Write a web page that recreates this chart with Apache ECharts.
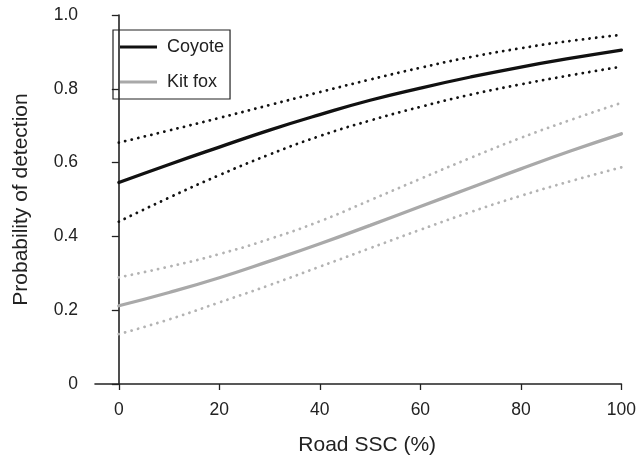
<!DOCTYPE html>
<html>
<head>
<meta charset="utf-8">
<script src="https://cdn.jsdelivr.net/npm/echarts@6/dist/echarts.min.js"></script>
<style>html,body{margin:0;padding:0;background:#fff}#c{width:639px;height:461px}</style>
</head>
<body>
<div id="c"></div>
<script>
const roadSSC = [0, 10, 20, 30, 40, 50, 60, 70, 80, 90, 100];
const coyoteMean  = [0.546, 0.595, 0.642, 0.688, 0.730, 0.769, 0.802, 0.832, 0.859, 0.883, 0.905];
const coyoteUpper = [0.654, 0.687, 0.721, 0.756, 0.791, 0.825, 0.857, 0.886, 0.910, 0.930, 0.946];
const coyoteLower = [0.440, 0.505, 0.566, 0.622, 0.672, 0.714, 0.751, 0.784, 0.812, 0.837, 0.860];
const kitfoxMean  = [0.212, 0.248, 0.288, 0.333, 0.380, 0.430, 0.481, 0.532, 0.583, 0.632, 0.678];
const kitfoxUpper = [0.289, 0.318, 0.352, 0.393, 0.441, 0.498, 0.556, 0.613, 0.667, 0.716, 0.762];
const kitfoxLower = [0.135, 0.175, 0.221, 0.268, 0.318, 0.368, 0.418, 0.466, 0.510, 0.550, 0.587];
const xTicks = [0, 20, 40, 60, 80, 100];
const yTicks = [0, 0.2, 0.4, 0.6, 0.8, 1.0];

const pair = arr => roadSSC.map((x, i) => [x, arr[i]]);
const FONT = 'Liberation Sans, Arial, sans-serif';
const TXT = '#222';
const dotted = [0.1, 6.6];

function mk(name, arr, color, width, type, z) {
  return {
    name: name, type: 'line', data: pair(arr), smooth: true,
    showSymbol: false, symbol: 'none', z: z,
    lineStyle: { color: color, width: width, type: type, cap: 'round' },
    itemStyle: { color: color }
  };
}

const chart = echarts.init(document.getElementById('c'), null, { renderer: 'canvas' });
chart.setOption({
  animation: false,
  backgroundColor: '#fff',
  grid: { left: 95, right: 14, top: 15, bottom: 76 },
  legend: {
    data: [{ name: 'Coyote', icon: 'rect' }, { name: 'Kit fox', icon: 'rect' }],
    orient: 'vertical', left: 113, top: 30,
    itemWidth: 37, itemHeight: 3, itemGap: 17,
    padding: [8, 6, 8, 7],
    borderColor: '#222', borderWidth: 1.2,
    textStyle: { fontFamily: FONT, fontSize: 18, color: TXT, padding: [0, 0, 0, 5] },
    selectedMode: false
  },
  xAxis: {
    type: 'value', min: -4.74, max: 100,
    name: 'Road SSC (%)', nameLocation: 'middle', nameGap: 51,
    nameTextStyle: { fontFamily: FONT, fontSize: 21, color: TXT, padding: [0, 0, 0, 18] },
    axisLine: { show: true, lineStyle: { color: '#222', width: 1.6 } },
    axisTick: { show: true, length: 6, customValues: xTicks, lineStyle: { color: '#222', width: 1.3 } },
    axisLabel: { customValues: xTicks, margin: 17, fontFamily: FONT, fontSize: 17.5, color: TXT },
    splitLine: { show: false }
  },
  yAxis: {
    type: 'value', min: 0, max: 1, interval: 0.2,
    name: 'Probability of detection', nameLocation: 'middle', nameGap: 63,
    nameTextStyle: { fontFamily: FONT, fontSize: 21, color: TXT },
    axisLine: { show: true, lineStyle: { color: '#222', width: 1.6 } },
    axisTick: { show: true, length: 7, lineStyle: { color: '#222', width: 1.3 } },
    axisLabel: {
      margin: 17, fontFamily: FONT, fontSize: 17.5, color: TXT,
      formatter: v => (v === 0 ? '0' : v.toFixed(1))
    },
    splitLine: { show: false }
  },
  series: [
    mk('Coyote upper', coyoteUpper, '#111', 2.8, dotted, 3),
    mk('Coyote lower', coyoteLower, '#111', 2.8, dotted, 3),
    mk('Kit fox upper', kitfoxUpper, '#b3b3b3', 2.8, dotted, 2),
    mk('Kit fox lower', kitfoxLower, '#b3b3b3', 2.8, dotted, 2),
    mk('Coyote', coyoteMean, '#111', 3.3, 'solid', 4),
    mk('Kit fox', kitfoxMean, '#a9a9a9', 3.3, 'solid', 4)
  ]
});
</script>
</body>
</html>
